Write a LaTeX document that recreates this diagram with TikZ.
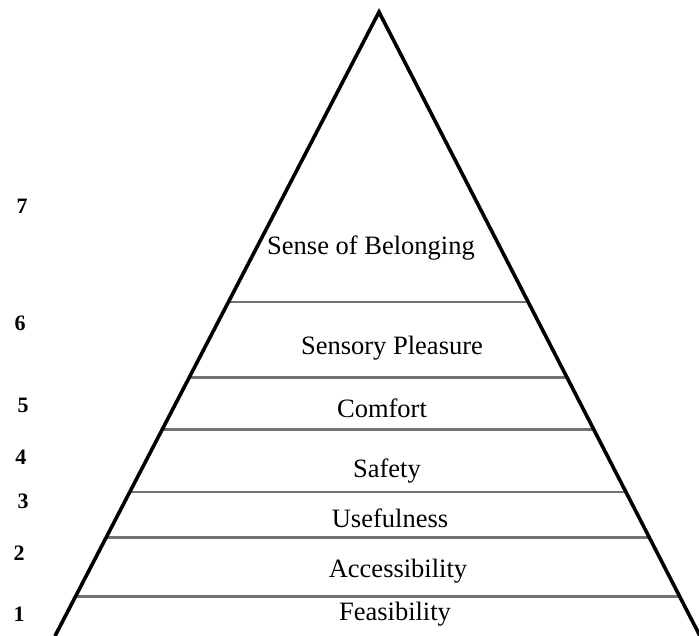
\documentclass[tikz,border=0pt]{standalone}
\usepackage{fontspec}
\setmainfont{Liberation Serif}
\usetikzlibrary{calc}

\begin{document}
\begin{tikzpicture}[x=1pt,y=-1pt,
  pside/.style={draw=black,line width=3.6pt,line join=miter},
  tier/.style={draw=black!55,line width=2.2pt},
  lvl/.style={font=\fontsize{26.5}{31}\selectfont},
  num/.style={font=\fontsize{22}{26}\selectfont\bfseries}]
 \useasboundingbox (0,0) rectangle (699,636);
 \coordinate (top) at (379,12);
 \coordinate (bl) at (55,636);
 \coordinate (br) at (700,636);
 \draw[black!20,line width=1pt] (bl) -- (br);
 \foreach \t in {0.4647,0.5857,0.6691,0.7692,0.8421,0.9367}
   \draw[tier] ($(top)!\t!(bl)$) -- ($(top)!\t!(br)$);
 \draw[pside] (bl) -- (top) -- (br);
 \node[lvl] (belong)  at (371,248) {Sense of Belonging};
 \node[lvl] (pleas)   at (392,348) {Sensory Pleasure};
 \node[lvl] (comfort) at (382,408) {Comfort};
 \node[lvl] (safety)  at (387,471) {Safety};
 \node[lvl] (useful)  at (390,518) {Usefulness};
 \node[lvl] (access)  at (398,571) {Accessibility};
 \node[lvl] (feas)    at (395,614) {Feasibility};
 \node[num] (n7) at (22,206) {7};
 \node[num] (n6) at (20,323) {6};
 \node[num] (n5) at (23,405) {5};
 \node[num] (n4) at (21,457) {4};
 \node[num] (n3) at (23,501) {3};
 \node[num] (n2) at (19,553) {2};
 \node[num] (n1) at (19,614) {1};
\end{tikzpicture}
\end{document}
